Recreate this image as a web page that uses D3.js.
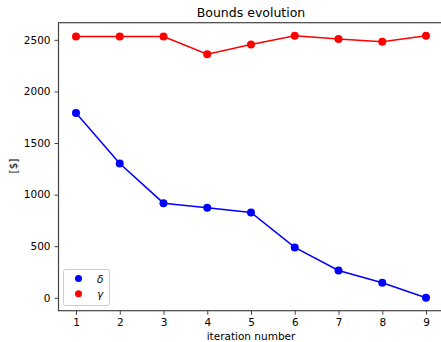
<!DOCTYPE html>
<html>
<head>
<meta charset="utf-8">
<script src="https://cdn.jsdelivr.net/npm/d3@7"></script>
<style>
  body { margin: 0; background: #fff; }
  text { font-family: "DejaVu Sans", sans-serif; fill: #000; }
</style>
</head>
<body>
<svg id="chart" width="441" height="342"></svg>
<script>
var iterations = [1, 2, 3, 4, 5, 6, 7, 8, 9];
var deltaValues = [1790, 1301, 917, 872, 827, 488, 265, 145, 0];
var gammaValues = [2532, 2532, 2532, 2361, 2455, 2539, 2507, 2481, 2539];
var yTicks = [0, 500, 1000, 1500, 2000, 2500];

var svg = d3.select("#chart");

var plotLeft = 58.5, plotRight = 443.5, plotTop = 22.7, plotBottom = 310.7;

var x = d3.scaleLinear().domain([0.6, 9.4]).range([plotLeft, plotRight]);
var y = d3.scaleLinear().domain([-125, 2666]).range([plotBottom, plotTop]);

// frame
svg.append("rect")
    .attr("x", plotLeft).attr("y", plotTop)
    .attr("width", plotRight - plotLeft).attr("height", plotBottom - plotTop)
    .attr("fill", "none").attr("stroke", "#444").attr("stroke-width", 1.2);

var xAxis = svg.append("g")
    .attr("transform", "translate(0," + plotBottom + ")")
    .call(d3.axisBottom(x).tickValues(iterations).tickFormat(d3.format("d")).tickSize(4).tickPadding(4));
var yAxis = svg.append("g")
    .attr("transform", "translate(" + plotLeft + ",0)")
    .call(d3.axisLeft(y).tickValues(yTicks).tickFormat(d3.format("d")).tickSize(4).tickPadding(4));

[xAxis, yAxis].forEach(function(a) {
    a.select(".domain").remove();
    a.selectAll("line").attr("stroke", "#444");
    a.selectAll("text").style("font-size", "10.5px").style("font-family", "DejaVu Sans").attr("fill", "#000");
});

var line = d3.line()
    .x(function(d, i) { return x(iterations[i]); })
    .y(function(d) { return y(d); });

var series = [
    { values: gammaValues, color: "#ff0000" },
    { values: deltaValues, color: "#0000ff" }
];

series.forEach(function(s) {
    svg.append("path")
        .datum(s.values)
        .attr("d", line)
        .attr("fill", "none")
        .attr("stroke", s.color)
        .attr("stroke-width", 1.5);
    svg.selectAll(null)
        .data(s.values)
        .enter()
        .append("circle")
        .attr("cx", function(d, i) { return x(iterations[i]); })
        .attr("cy", function(d) { return y(d); })
        .attr("r", 4)
        .attr("fill", s.color);
});

// title and labels
svg.append("text")
    .attr("x", 251).attr("y", 17)
    .attr("text-anchor", "middle")
    .style("font-size", "12.5px")
    .text("Bounds evolution");

svg.append("text")
    .attr("x", 251).attr("y", 340)
    .attr("text-anchor", "middle")
    .style("font-size", "10.5px")
    .text("iteration number");

svg.append("text")
    .attr("transform", "translate(17,166) rotate(-90)")
    .attr("text-anchor", "middle")
    .style("font-size", "10.5px")
    .text("[$]");

// legend
var legend = svg.append("g");
legend.append("rect")
    .attr("x", 63.5).attr("y", 269.5)
    .attr("width", 46).attr("height", 36)
    .attr("rx", 2)
    .attr("fill", "#fff").attr("fill-opacity", 0.8)
    .attr("stroke", "#ccc");

var legendItems = [
    { label: "δ", color: "#0000ff" },
    { label: "γ", color: "#ff0000" }
];
legendItems.forEach(function(item, i) {
    var cy = 278.5 + i * 15.3;
    legend.append("circle")
        .attr("cx", 78.5).attr("cy", cy).attr("r", 3.5)
        .attr("fill", item.color);
    legend.append("text")
        .attr("x", 97).attr("y", cy + 4)
        .style("font-size", "10.5px")
        .style("font-style", "italic")
        .text(item.label);
});
</script>
</body>
</html>
